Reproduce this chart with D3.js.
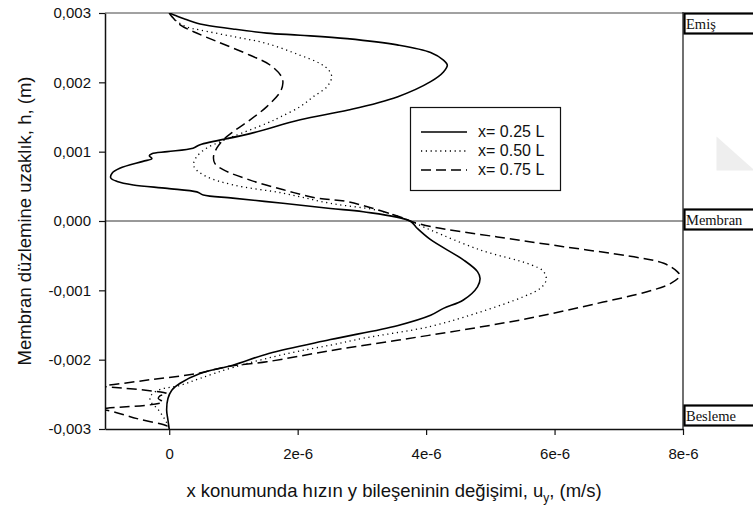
<!DOCTYPE html>
<html>
<head>
<meta charset="utf-8">
<script src="https://cdn.jsdelivr.net/npm/d3@7"></script>
<style>
  body { margin: 0; background: #ffffff; }
  svg { display: block; }
</style>
</head>
<body>
<svg id="chart" width="753" height="512"></svg>
<script>
// Distance from the membrane plane h (in units of 0.001 m) and the
// y-component of velocity u_y (in units of 1e-6 m/s) at three positions x.
const h025 = [3.00, 2.96, 2.92, 2.84, 2.77, 2.71, 2.68, 2.63, 2.54, 2.43, 2.32, 2.25, 2.15, 2.01, 1.79, 1.60,
  1.46, 1.26, 1.10, 1.05, 1.00, 0.97, 0.94, 0.90, 0.86, 0.76, 0.69, 0.62, 0.57, 0.52, 0.47, 0.42, 0.375,
  0.33, 0.255, 0.18, 0.134, 0.00, -0.105, -0.27, -0.56, -0.73, -0.83, -0.95, -1.14, -1.26, -1.36, -1.51,
  -1.71, -1.91, -2.08, -2.20, -2.34, -2.44, -2.56, -2.73, -2.87, -3.00];
const u025 = [0.00, 0.11, 0.22, 0.48, 0.99, 1.52, 2.04, 2.77, 3.55, 4.07, 4.27, 4.33, 4.27, 4.07, 3.55, 2.79,
  2.04, 1.26, 0.48, 0.37, -0.03, -0.27, -0.31, -0.27, -0.41, -0.77, -0.89, -0.91, -0.81, -0.56, -0.03, 0.43, 0.53,
  0.99, 1.77, 2.51, 3.02, 3.75, 3.86, 4.07, 4.58, 4.80, 4.84, 4.80, 4.58, 4.27, 4.07, 3.55,
  2.51, 1.55, 0.99, 0.48, 0.17, 0.04, -0.02, -0.04, -0.02, 0.00];

const h050 = [3.00, 2.90, 2.80, 2.755, 2.66, 2.56, 2.39, 2.27, 2.18, 2.08, 1.94, 1.79, 1.65, 1.50, 1.41, 1.22,
  1.14, 1.05, 0.93, 0.83, 0.76, 0.64, 0.52, 0.40, 0.255, 0.145, 0.00, -0.13, -0.42, -0.63, -0.73, -0.85, -0.97,
  -1.09, -1.31, -1.52, -1.69, -1.79, -1.91, -2.11, -2.27, -2.37, -2.43, -2.50, -2.56, -2.63, -2.70, -2.80,
  -2.91, -3.00];
const u050 = [0.00, 0.09, 0.27, 0.48, 1.00, 1.52, 2.04, 2.35, 2.48, 2.53, 2.46, 2.24, 2.04, 1.73, 1.52, 1.00,
  0.79, 0.58, 0.43, 0.38, 0.40, 0.58, 1.00, 1.78, 2.51, 3.29, 3.75, 4.07, 4.85, 5.63, 5.83, 5.87, 5.78,
  5.52, 4.85, 4.07, 3.03, 2.51, 1.85, 1.00, 0.48, 0.17, -0.14, -0.27, -0.30, -0.27, -0.19, -0.11,
  -0.04, 0.00];

const h075 = [3.00, 2.95, 2.83, 2.73, 2.59, 2.39, 2.25, 2.08, 1.99, 1.865, 1.65, 1.46, 1.29, 1.17, 1.05, 0.93,
  0.83, 0.74, 0.59, 0.45, 0.33, 0.28, 0.04, 0.00, -0.08, -0.23, -0.37, -0.51, -0.61, -0.73, -0.79, -0.90,
  -1.02, -1.19, -1.40, -1.57, -1.72, -1.87, -2.03, -2.10, -2.20, -2.29, -2.37, -2.38, -2.39, -2.49, -2.52,
  -2.56, -2.61, -2.70, -2.715, -2.73, -2.85, -2.97, -3.00];
const u075 = [0.00, 0.04, 0.17, 0.38, 0.74, 1.26, 1.57, 1.75, 1.77, 1.73, 1.52, 1.26, 1.00, 0.84, 0.74, 0.69,
  0.71, 0.84, 1.26, 1.78, 2.30, 2.77, 3.65, 3.75, 4.07, 5.11, 6.14, 7.18, 7.70, 7.91, 7.95, 7.81,
  7.44, 6.66, 5.62, 4.58, 3.55, 2.51, 1.52, 0.90, 0.43, -0.30, -1.00, -1.30, -1.00, -0.04, -0.14,
  -0.17, -0.10, -0.97, -1.20, -0.97, -0.50, -0.01, 0.00];

const seriesNames = ["x= 0.25 L", "x= 0.50 L", "x= 0.75 L"];
const xTickValues = [0, 2, 4, 6, 8];
const xTickLabels = ["0", "2e-6", "4e-6", "6e-6", "8e-6"];
const yTickValues = [-3, -2, -1, 0, 1, 2, 3];
const yTickLabels = ["-0,003", "-0,002", "-0,001", "0,000", "0,001", "0,002", "0,003"];
const zoneLabels = ["Emiş", "Membran", "Besleme"];
const zoneLevels = [3, 0, -3];
const xTitle = "x konumunda hızın y bileşeninin değişimi, u";
const xTitleSub = "y";
const xTitleEnd = ", (m/s)";
const yTitle = "Membran düzlemine uzaklık, h, (m)";

(function draw() {
  const sans = "'Liberation Sans', Arial, Helvetica, sans-serif";
  const serif = "'Liberation Serif', 'Times New Roman', serif";

  const svg = d3.select("#chart");
  const pLeft = 105, pRight = 683, pTop = 13, pBottom = 429;

  const x = d3.scaleLinear().domain([-1, 8]).range([pLeft, pRight]);
  const y = d3.scaleLinear().domain([-3, 3]).range([pBottom, pTop]);

  // faint grey corner mark at the right edge
  svg.append("path")
    .attr("d", "M716.5,136.5 L753,169 L753,170.5 L716.5,170.5 Z")
    .attr("fill", "#eeeeee");

  // frame lines: top edge, membrane line, right edge
  svg.append("line").attr("x1", pLeft).attr("x2", pRight).attr("y1", y(3)).attr("y2", y(3))
    .attr("stroke", "#444").attr("stroke-width", 1);
  svg.append("line").attr("x1", pLeft).attr("x2", pRight).attr("y1", y(0)).attr("y2", y(0))
    .attr("stroke", "#333").attr("stroke-width", 1);
  svg.append("line").attr("x1", x(8)).attr("x2", x(8)).attr("y1", y(3) - 1).attr("y2", pBottom)
    .attr("stroke", "#111").attr("stroke-width", 1.2);

  // zone boxes on the right
  const boxH = 20;
  const boxTop = [y(zoneLevels[0]), y(zoneLevels[1]) - 12, y(zoneLevels[2]) - 24];
  zoneLabels.forEach((lab, i) => {
    const g = svg.append("g");
    g.append("rect")
      .attr("x", x(8) + 1.5).attr("y", boxTop[i] + 0.5)
      .attr("width", 120).attr("height", boxH)
      .attr("fill", "#fff").attr("stroke", "#000").attr("stroke-width", 2.2);
    g.append("text")
      .attr("x", x(8) + 3).attr("y", boxTop[i] + 15.5)
      .attr("font-family", serif).attr("font-size", 14.5)
      .attr("fill", "#111")
      .text(lab);
  });

  // axes
  const xAxis = d3.axisBottom(x).tickValues(xTickValues)
    .tickFormat((d, i) => xTickLabels[i]).tickSize(6).tickSizeOuter(0).tickPadding(13);
  const yAxis = d3.axisLeft(y).tickValues(yTickValues)
    .tickFormat((d, i) => yTickLabels[i]).tickSize(6).tickSizeOuter(0).tickPadding(8);

  const gx = svg.append("g").attr("transform", `translate(0,${pBottom})`).call(xAxis);
  const gy = svg.append("g").attr("transform", `translate(${pLeft},0)`).call(yAxis);
  [gx, gy].forEach(g => {
    g.select(".domain").attr("stroke", "#111").attr("stroke-width", 1.5);
    g.selectAll(".tick line").attr("stroke", "#111").attr("stroke-width", 1.2);
    g.selectAll(".tick text").attr("font-family", sans).attr("font-size", 15).attr("fill", "#111");
  });

  // data curves
  svg.append("clipPath").attr("id", "plotClip")
    .append("rect").attr("x", pLeft + 0.5).attr("y", pTop)
    .attr("width", pRight - pLeft).attr("height", pBottom - pTop);

  const line = d3.line()
    .x(d => x(d[0])).y(d => y(d[1]))
    .curve(d3.curveCatmullRom.alpha(0.5));

  const series = [
    { u: u025, h: h025, dash: null, width: 1.6 },
    { u: u050, h: h050, dash: "1.2,3.6", width: 1.3 },
    { u: u075, h: h075, dash: "10,5", width: 1.5 }
  ];

  const plot = svg.append("g").attr("clip-path", "url(#plotClip)");
  series.forEach(s => {
    plot.append("path")
      .datum(d3.zip(s.u, s.h))
      .attr("d", line)
      .attr("fill", "none")
      .attr("stroke", "#000")
      .attr("stroke-width", s.width)
      .attr("stroke-dasharray", s.dash);
  });

  // legend
  const leg = svg.append("g");
  leg.append("rect").attr("x", 410.5).attr("y", 107.5).attr("width", 150).attr("height", 83)
    .attr("fill", "#fff").attr("stroke", "#111").attr("stroke-width", 1.2);
  const rowY = [132, 151, 170];
  series.forEach((s, i) => {
    leg.append("line").attr("x1", 421).attr("x2", 467).attr("y1", rowY[i]).attr("y2", rowY[i])
      .attr("stroke", "#000").attr("stroke-width", s.width).attr("stroke-dasharray", s.dash);
    leg.append("text").attr("x", 478).attr("y", rowY[i] + 5)
      .attr("font-family", sans).attr("font-size", 16).attr("fill", "#111")
      .text(seriesNames[i]);
  });

  // axis titles
  const xt = svg.append("text")
    .attr("x", (pLeft + pRight) / 2).attr("y", 497)
    .attr("text-anchor", "middle")
    .attr("font-family", sans).attr("font-size", 18.5).attr("fill", "#111");
  xt.append("tspan").text(xTitle);
  xt.append("tspan").attr("font-size", 12).attr("dy", 5).text(xTitleSub);
  xt.append("tspan").attr("dy", -5).text(xTitleEnd);

  svg.append("text")
    .attr("transform", `translate(31,${(pTop + pBottom) / 2}) rotate(-90)`)
    .attr("text-anchor", "middle")
    .attr("font-family", sans).attr("font-size", 18.5).attr("fill", "#111")
    .text(yTitle);
})();
</script>
</body>
</html>
